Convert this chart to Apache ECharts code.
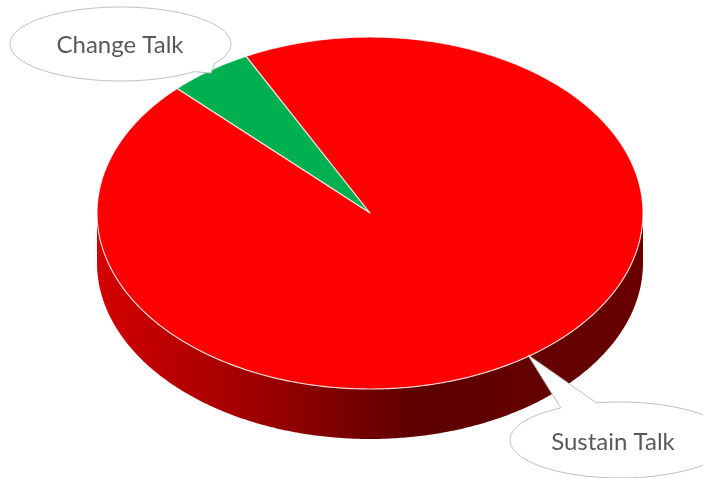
<!DOCTYPE html>
<html>
<head>
<meta charset="utf-8">
<style>html,body{margin:0;padding:0;background:#fff}#c{width:703px;height:478px}</style>
<script src="https://cdn.jsdelivr.net/npm/echarts@6/dist/echarts.min.js"></script>
</head>
<body>
<div id="c"></div>
<script>
const categories = ['Change Talk', 'Sustain Talk'];
const talkValues = [5, 95];
const sliceColors = ['#00b050', '#ff0000'];

const chart = echarts.init(document.getElementById('c'), null, {renderer: 'canvas'});
const cx = 370, cy = 213, rx = 273, ry = 176, depth = 50;
const startDeg = -45;
const total = talkValues.reduce((a, b) => a + b, 0);

function rim(deg, off) {
  const r = deg * Math.PI / 180;
  return [cx + rx * Math.sin(r), cy - ry * Math.cos(r) + (off || 0)];
}
function arc(a0, a1, off) {
  const pts = [], n = Math.max(2, Math.ceil(Math.abs(a1 - a0) * 2));
  for (let i = 0; i <= n; i++) pts.push(rim(a0 + (a1 - a0) * i / n, off));
  return pts;
}
function sliceRange(idx) {
  let s = 0;
  for (let i = 0; i < idx; i++) s += talkValues[i];
  return [startDeg + s / total * 360, startDeg + (s + talkValues[idx]) / total * 360];
}
const sideFill = new echarts.graphic.LinearGradient(cx - rx, 0, cx + rx, 0, [
  {offset: 0, color: '#d40000'},
  {offset: 0.33, color: '#960000'},
  {offset: 0.58, color: '#5e0000'},
  {offset: 1, color: '#680000'}
], true);

function renderSlice(params, api) {
  const idx = params.dataIndex;
  const [a0, a1] = sliceRange(idx);
  const children = [];
  const w0 = Math.max(a0, 90), w1 = Math.min(a1, 270);
  if (w1 > w0) {
    children.push({
      type: 'polygon',
      shape: {points: arc(w0, w1, 0).concat(arc(w1, w0, depth))},
      style: {fill: sideFill}
    });
  }
  children.push({
    type: 'polygon',
    shape: {points: [[cx, cy]].concat(arc(a0, a1, 0))},
    style: {fill: sliceColors[idx], stroke: 'rgba(255,255,255,0.8)', lineWidth: 1.2, lineJoin: 'round'}
  });
  return {type: 'group', children};
}

const callouts = [
  {ex: 120.5, ey: 44, erx: 110.5, ery: 37, base: [[213, 63], [200, 74]], tip: [211, 73], tx: 120, ty: 45},
  {ex: 620, ey: 440, erx: 110, ery: 38, base: [[559, 407], [596, 402]], tip: [528, 355], tx: 613, ty: 442}
];
function renderCallout(params) {
  const c = callouts[params.dataIndex];
  const ang = p => Math.atan2((p[1] - c.ey) / c.ery, (p[0] - c.ex) / c.erx);
  const a0 = ang(c.base[1]);
  let a1 = ang(c.base[0]);
  while (a1 > a0) a1 -= 2 * Math.PI;
  a1 += 2 * Math.PI;
  const pts = [];
  for (let i = 0; i <= 160; i++) {
    const t = a0 + (a1 - a0) * i / 160;
    pts.push([c.ex + c.erx * Math.cos(t), c.ey + c.ery * Math.sin(t)]);
  }
  pts.push(c.tip);
  return {
    type: 'group',
    children: [
      {type: 'polygon', shape: {points: pts}, style: {fill: '#ffffff', stroke: '#bfbfbf', lineWidth: 1}},
      {type: 'text', style: {
        x: c.tx, y: c.ty, text: categories[params.dataIndex], fill: '#595959',
        font: '24px Lato', align: 'center', verticalAlign: 'middle'
      }}
    ]
  };
}

chart.setOption({
  animation: false,
  backgroundColor: '#ffffff',
  series: [
    {
      type: 'custom', coordinateSystem: 'none', z: 2,
      data: categories.map((n, i) => ({name: n, value: [talkValues[i], i]})),
      encode: {value: 0},
      renderItem: renderSlice
    },
    {
      type: 'custom', coordinateSystem: 'none', z: 3,
      data: categories.map((n, i) => ({name: n, value: [talkValues[i], i]})),
      encode: {value: 0},
      renderItem: renderCallout
    }
  ]
});
</script>
</body>
</html>
